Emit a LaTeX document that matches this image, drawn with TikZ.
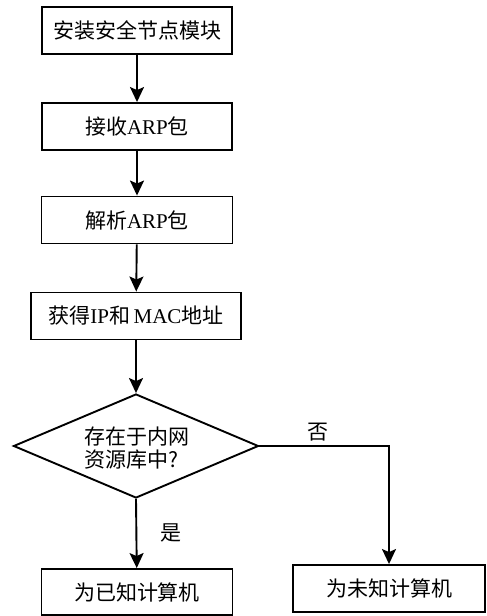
\documentclass[tikz,border=0pt]{standalone}
\usepackage{fontspec}
\setmainfont{Liberation Serif}
\newfontfamily\cjk{Noto Sans CJK SC}
\usetikzlibrary{shapes.geometric,arrows.meta}
\begin{document}
\begin{tikzpicture}[x=1pt,y=-1pt,
  every node/.style={font=\fontsize{21}{23.5}\selectfont},
  box/.style={draw,line width=1.9pt,inner sep=0pt,minimum height=47pt},
  conn/.style={line width=1.9pt,-{Stealth[length=15pt,width=14pt,inset=3pt]}},
  lbl/.style={inner sep=0pt}]
\useasboundingbox (0,0) rectangle (487,616);
\node[box,minimum width=190pt] (b1) at (137,30.5) {\cjk 安装安全节点模块};
\node[box,minimum width=190pt] (b2) at (137,126.5) {{\cjk 接收}ARP{\cjk 包}};
\node[box,minimum width=191pt] (b3) at (137,220) {{\cjk 解析}ARP{\cjk 包}};
\node[box,minimum width=210pt] (b4) at (136,316) {{\cjk 获得}IP{\cjk 和}\,MAC{\cjk 地址}};
\node[draw,diamond,line width=1.9pt,minimum width=245pt,minimum height=104pt,inner sep=0pt] (d) at (136,446) {};
\node[lbl,align=left] (dt) at (137,448) {\cjk 存在于内网\\\cjk 资源库中?};
\node[box,minimum width=191pt,minimum height=46pt] (yes) at (137,592) {\cjk 为已知计算机};
\node[box,minimum width=192pt] (no) at (389,588.5) {\cjk 为未知计算机};
\coordinate (corner) at (389,446);
\draw[conn] (b1) -- (b2);
\draw[conn] (b2) -- (b3);
\draw[conn] (b3) -- (b4);
\draw[conn] (b4) -- (d);
\draw[conn] (d.south) -- (yes);
\draw[conn] (d.east) -- (corner) -- (no);
\node[lbl] (shi) at (171,533) {\cjk 是};
\node[lbl] (fou) at (318,432) {\cjk 否};
\end{tikzpicture}
\end{document}
